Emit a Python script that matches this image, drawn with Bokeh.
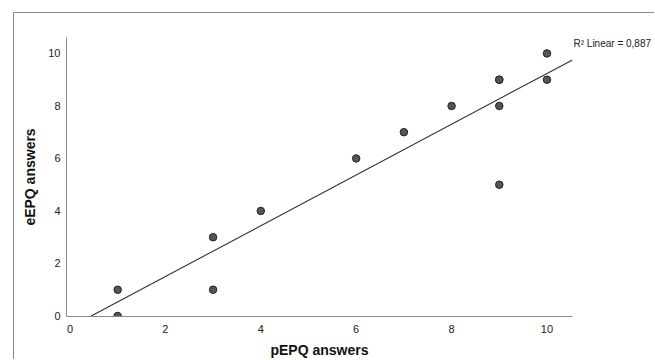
import numpy as np
from bokeh.plotting import figure
from bokeh.models import FixedTicker, Range1d
from bokeh.embed import file_html
from bokeh.resources import INLINE

# data
pepq = [1, 1, 3, 3, 4, 6, 7, 8, 9, 9, 9, 9, 10, 10]
eepq = [0, 1, 1, 3, 4, 6, 7, 8, 9, 9, 8, 5, 10, 9]
ticks = [0, 2, 4, 6, 8, 10]
r2_text = "R² Linear = 0,887"
x_title = "pEPQ answers"
y_title = "eEPQ answers"

FONT = "Liberation Sans"

x_min, x_max = -0.073, 10.535
y_min, y_max = -0.02, 10.607

p = figure(width=641, height=347, output_backend="svg", toolbar_location=None,
           x_range=Range1d(x_min, x_max), y_range=Range1d(y_min, y_max),
           min_border_left=52, min_border_right=83, min_border_top=24,
           min_border_bottom=43)
p.styles = {"margin-left": "13px", "margin-top": "12px",
            "border-left": "1px solid #8a8a8a",
            "border-top": "1px solid #8a8a8a"}
p.outline_line_color = None
p.xgrid.grid_line_color = None
p.ygrid.grid_line_color = None
p.background_fill_color = "white"
p.border_fill_color = "white"

# fit annotation placed just past the right end of the x axis
p.title.text = r2_text
p.title.align = "left"
p.title.offset = 507
p.title.standoff = -23
p.title.text_font = FONT
p.title.text_font_size = "10px"
p.title.text_font_style = "normal"
p.title.text_color = "#222222"

for ax in (p.xaxis[0], p.yaxis[0]):
    ax.ticker = FixedTicker(ticks=ticks)
    ax.axis_line_color = "#8c8c8c"
    ax.axis_line_width = 1
    ax.major_tick_line_color = None
    ax.minor_tick_line_color = None
    ax.major_label_text_font = FONT
    ax.major_label_text_font_size = "11px"
    ax.major_label_text_color = "#222222"
    ax.axis_label_text_font = FONT
    ax.axis_label_text_font_size = "14px"
    ax.axis_label_text_font_style = "bold"
    ax.axis_label_text_color = "#111111"

p.xaxis.axis_label = x_title
p.yaxis.axis_label = y_title
p.xaxis.major_label_standoff = 2
p.xaxis.axis_label_standoff = 6
p.yaxis.major_label_standoff = 0
p.yaxis.axis_label_standoff = 7

# linear fit line, clipped at y = 0 and the right end of the x axis
slope, intercept = np.polyfit(pepq, eepq, 1)
x_lo = -intercept / slope
x_hi = x_max
p.line([x_lo, x_hi], [slope * x_lo + intercept, slope * x_hi + intercept],
       line_color="#333333", line_width=1.1)

p.scatter(pepq, eepq, size=7.5, fill_color="#555555", line_color="#222222",
          line_width=1)

open("out.html", "w").write(file_html(p, INLINE))
